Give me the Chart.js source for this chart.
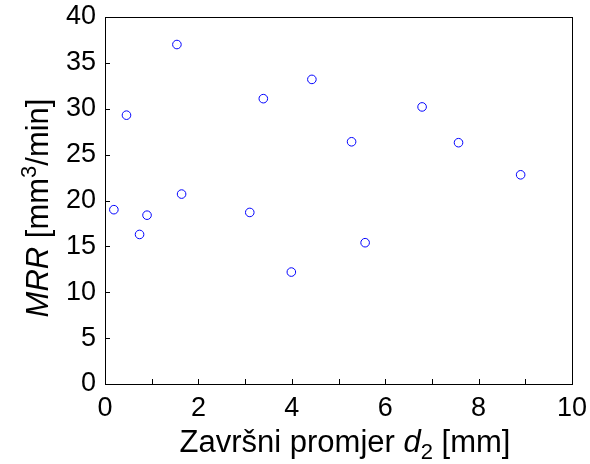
<!DOCTYPE html>
<html>
<head>
<meta charset="utf-8">
<script src="https://cdn.jsdelivr.net/npm/chart.js@4"></script>
<style>
  body { margin: 0; background: #fff; }
  #c { display: block; }
</style>
</head>
<body>
<canvas id="c" width="590" height="464"></canvas>
<script>
// završni promjer d2 [mm]
const d2 = [0.19, 0.46, 0.74, 0.90, 1.54, 1.64, 3.10, 3.39, 3.99, 4.43, 5.28, 5.57, 6.79, 7.57, 8.90];
// MRR [mm3/min]
const mrr = [19.0, 29.3, 16.3, 18.4, 37.0, 20.7, 18.7, 31.1, 12.2, 33.2, 26.4, 15.4, 30.2, 26.3, 22.8];
const xTicks = [0, 2, 4, 6, 8, 10];
const yTicks = [0, 5, 10, 15, 20, 25, 30, 35, 40];

const FONT = 'Liberation Sans, Arial, sans-serif';

const points = d2.map((x, i) => ({ x: x, y: mrr[i] }));

// draw a list of text runs: [text, italic, shift('sub'|'sup'|null)]
function drawRuns(ctx, runs, size, cx, baseline) {
  const small = Math.round(size * 0.7);
  const fontOf = r => (r[1] ? 'italic ' : '') + (r[2] ? small : size) + 'px ' + FONT;
  let total = 0;
  runs.forEach(r => { ctx.font = fontOf(r); total += ctx.measureText(r[0]).width; });
  let x = cx - total / 2;
  ctx.textAlign = 'left';
  ctx.textBaseline = 'alphabetic';
  runs.forEach(r => {
    ctx.font = fontOf(r);
    let dy = 0;
    if (r[2] === 'sub') dy = size * 0.22;
    if (r[2] === 'sup') dy = -size * 0.38;
    ctx.fillText(r[0], x, baseline + dy);
    x += ctx.measureText(r[0]).width;
  });
}

const frame = {
  id: 'frame',
  afterDraw(chart) {
    const ctx = chart.ctx;
    const a = chart.chartArea;
    const xs = chart.scales.x, ys = chart.scales.y;
    ctx.save();
    ctx.strokeStyle = '#000';
    ctx.lineWidth = 1;
    ctx.strokeRect(Math.round(a.left) + 0.5, Math.round(a.top) + 0.5,
      Math.round(a.right - a.left), Math.round(a.bottom - a.top));
    // inward ticks
    ctx.beginPath();
    for (let v = 0; v <= 10; v++) {
      const px = Math.round(xs.getPixelForValue(v)) + 0.5;
      ctx.moveTo(px, a.bottom); ctx.lineTo(px, a.bottom - 5);
    }
    yTicks.forEach(v => {
      const py = Math.round(ys.getPixelForValue(v)) + 0.5;
      ctx.moveTo(a.left, py); ctx.lineTo(a.left + 5, py);
    });
    ctx.stroke();

    ctx.fillStyle = '#000';
    drawRuns(ctx, [['Završni promjer ', false, null], ['d', true, null], ['2', false, 'sub'], [' [mm]', false, null]],
      31, 345, 452);
    ctx.translate(48, 208);
    ctx.rotate(-Math.PI / 2);
    drawRuns(ctx, [['MRR', true, null], [' [mm', false, null], ['3', false, 'sup'], ['/min]', false, null]],
      31, 0, 0);
    ctx.restore();
  }
};

new Chart(document.getElementById('c'), {
  type: 'scatter',
  data: {
    datasets: [{
      data: points,
      borderColor: '#0000ff',
      backgroundColor: 'rgba(0,0,0,0)',
      borderWidth: 1,
      pointRadius: 4.3,
      pointHoverRadius: 4.3
    }]
  },
  options: {
    responsive: false,
    animation: false,
    layout: { padding: { left: 0, top: 17, right: 18, bottom: 0 } },
    plugins: { legend: { display: false }, tooltip: { enabled: false } },
    scales: {
      x: {
        type: 'linear',
        min: 0, max: 10,
        afterFit: s => { s.height = 80; s.paddingLeft = 0; s.paddingRight = 0; },
        afterBuildTicks: s => { s.ticks = xTicks.map(v => ({ value: v })); },
        grid: { display: false, drawTicks: false },
        border: { display: false },
        ticks: { color: '#000', padding: 8, maxRotation: 0, font: { family: FONT, size: 27 } }
      },
      y: {
        type: 'linear',
        min: 0, max: 40,
        afterFit: s => { s.width = 105; s.paddingTop = 0; s.paddingBottom = 0; },
        afterBuildTicks: s => { s.ticks = yTicks.map(v => ({ value: v })); },
        grid: { display: false, drawTicks: false },
        border: { display: false },
        ticks: { color: '#000', padding: 9, font: { family: FONT, size: 27 } }
      }
    }
  },
  plugins: [frame]
});
</script>
</body>
</html>
